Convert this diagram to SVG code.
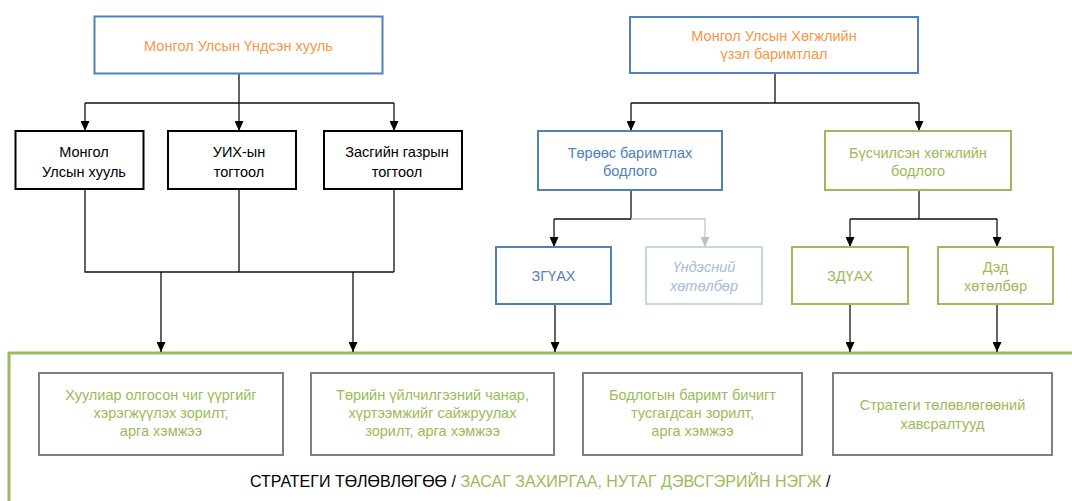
<svg xmlns="http://www.w3.org/2000/svg" width="1072" height="501" viewBox="0 0 1072 501">
<style>
text{font-family:"Liberation Sans",Arial,sans-serif;font-size:14.5px;text-anchor:middle}
.box{fill:#fff;stroke-width:2}
.blue{stroke:#4f81bd}
.black{stroke:#000}
.green{stroke:#9bbb59}
.grey{stroke:#7f7f7f}
.pale{stroke:#c6d5e8}
.torange{fill:#f79646}
.tblue{fill:#4f81bd}
.tgreen{fill:#9bbb59}
.tblack{fill:#000}
.tpale{fill:#a8bbd5;font-style:italic}
.ln{fill:none;stroke:#111;stroke-width:1.3}
.lnpale{fill:none;stroke:#c8c8c8;stroke-width:1.3}
</style>
<defs>
<marker id="ah" viewBox="0 0 10 9" refX="10" refY="4.5" markerWidth="10" markerHeight="9" markerUnits="userSpaceOnUse" orient="auto"><path d="M0,0 L10,4.5 L0,9 z" fill="#000"/></marker>
<marker id="ahp" viewBox="0 0 10 9" refX="10" refY="4.5" markerWidth="10" markerHeight="9" markerUnits="userSpaceOnUse" orient="auto"><path d="M0,0 L10,4.5 L0,9 z" fill="#c0c0c0"/></marker>
</defs>

<g id="container">
<rect x="9" y="353" width="1100" height="200" fill="none" stroke="#9bbb59" stroke-width="3"/>
<text x="250" y="487" style="text-anchor:start;font-size:16px"><tspan fill="#000">СТРАТЕГИ ТӨЛӨВЛӨГӨӨ / </tspan><tspan fill="#9bbb59">ЗАСАГ ЗАХИРГАА, НУТАГ ДЭВСГЭРИЙН НЭГЖ</tspan><tspan fill="#000"> /</tspan></text>
</g>

<g id="connectors">
<path class="ln" d="M239,73 V103"/>
<path class="ln" d="M85,103 H394"/>
<path class="ln" d="M85,103 V131" marker-end="url(#ah)"/>
<path class="ln" d="M239,103 V131" marker-end="url(#ah)"/>
<path class="ln" d="M394,103 V131" marker-end="url(#ah)"/>
<path class="ln" d="M85,189 V272 H394 M239,189 V272 M394,189 V272"/>
<path class="ln" d="M161,272 V352" marker-end="url(#ah)"/>
<path class="ln" d="M353,272 V352" marker-end="url(#ah)"/>
<path class="ln" d="M775,73 V103 M631,103 H919"/>
<path class="ln" d="M631,103 V131" marker-end="url(#ah)"/>
<path class="ln" d="M919,103 V131" marker-end="url(#ah)"/>
<path class="ln" d="M631,190 V219 H554"/>
<path class="ln" d="M554,219 V247" marker-end="url(#ah)"/>
<path class="lnpale" d="M631,219 H705 V247" marker-end="url(#ahp)"/>
<path class="ln" d="M919,190 V219 M850,219 H997"/>
<path class="ln" d="M850,219 V247" marker-end="url(#ah)"/>
<path class="ln" d="M997,219 V247" marker-end="url(#ah)"/>
<path class="ln" d="M555,304 V352" marker-end="url(#ah)"/>
<path class="ln" d="M850,304 V352" marker-end="url(#ah)"/>
<path class="ln" d="M997,304 V352" marker-end="url(#ah)"/>
</g>

<g id="n-constitution">
<rect class="box blue" x="94.5" y="16.5" width="288" height="57"/>
<text class="torange" x="238.5" y="51">Монгол Улсын Үндсэн хууль</text>
</g>
<g id="n-law">
<rect class="box black" x="15.5" y="131" width="128" height="58"/>
<text class="tblack" x="84" y="157">Монгол</text>
<text class="tblack" x="84" y="177">Улсын хууль</text>
</g>
<g id="n-parliament">
<rect class="box black" x="168" y="131" width="128" height="58"/>
<text class="tblack" x="239" y="157">УИХ-ын</text>
<text class="tblack" x="239" y="177">тогтоол</text>
</g>
<g id="n-government">
<rect class="box black" x="324" y="131" width="138" height="58"/>
<text class="tblack" x="397" y="157">Засгийн газрын</text>
<text class="tblack" x="397" y="177">тогтоол</text>
</g>

<g id="n-concept">
<rect class="box blue" x="630" y="17" width="288" height="56"/>
<text class="torange" x="774" y="41">Монгол Улсын Хөгжлийн</text>
<text class="torange" x="774" y="59">үзэл баримтлал</text>
</g>
<g id="n-state-policy">
<rect class="box blue" x="538" y="131" width="184" height="59"/>
<text class="tblue" x="630" y="158">Төрөөс баримтлах</text>
<text class="tblue" x="630" y="176">бодлого</text>
</g>
<g id="n-regional-policy">
<rect class="box green" x="825" y="131" width="186" height="59"/>
<text class="tgreen" x="918" y="158">Бүсчилсэн хөгжлийн</text>
<text class="tgreen" x="918" y="176">бодлого</text>
</g>
<g id="n-zguah">
<rect class="box blue" x="496" y="247" width="115" height="57"/>
<text class="tblue" x="553.5" y="281">ЗГҮАХ</text>
</g>
<g id="n-national-program">
<rect class="box pale" x="646" y="247" width="116" height="57"/>
<text class="tpale" x="704" y="272">Үндэсний</text>
<text class="tpale" x="704" y="291">хөтөлбөр</text>
</g>
<g id="n-zduah">
<rect class="box green" x="792" y="247" width="116" height="57"/>
<text class="tgreen" x="850" y="281">ЗДҮАХ</text>
</g>
<g id="n-subprogram">
<rect class="box green" x="938" y="247" width="115" height="57"/>
<text class="tgreen" x="995.5" y="272">Дэд</text>
<text class="tgreen" x="995.5" y="291">хөтөлбөр</text>
</g>

<g id="n-b1">
<rect class="box grey" x="39" y="373" width="244" height="82"/>
<text class="tgreen" x="161" y="400">Хуулиар олгосон чиг үүргийг</text>
<text class="tgreen" x="161" y="418">хэрэгжүүлэх зорилт,</text>
<text class="tgreen" x="161" y="436">арга хэмжээ</text>
</g>
<g id="n-b2">
<rect class="box grey" x="311" y="373" width="243" height="82"/>
<text class="tgreen" x="432.5" y="400">Төрийн үйлчилгээний чанар,</text>
<text class="tgreen" x="432.5" y="418">хүртээмжийг сайжруулах</text>
<text class="tgreen" x="432.5" y="436">зорилт, арга хэмжээ</text>
</g>
<g id="n-b3">
<rect class="box grey" x="583" y="373" width="219" height="82"/>
<text class="tgreen" x="692.5" y="400">Бодлогын баримт бичигт</text>
<text class="tgreen" x="692.5" y="418">тусгагдсан зорилт,</text>
<text class="tgreen" x="692.5" y="436">арга хэмжээ</text>
</g>
<g id="n-b4">
<rect class="box grey" x="833" y="373" width="219" height="82"/>
<text class="tgreen" x="942.5" y="410">Стратеги төлөвлөгөөний</text>
<text class="tgreen" x="942.5" y="429">хавсралтууд</text>
</g>
</svg>
